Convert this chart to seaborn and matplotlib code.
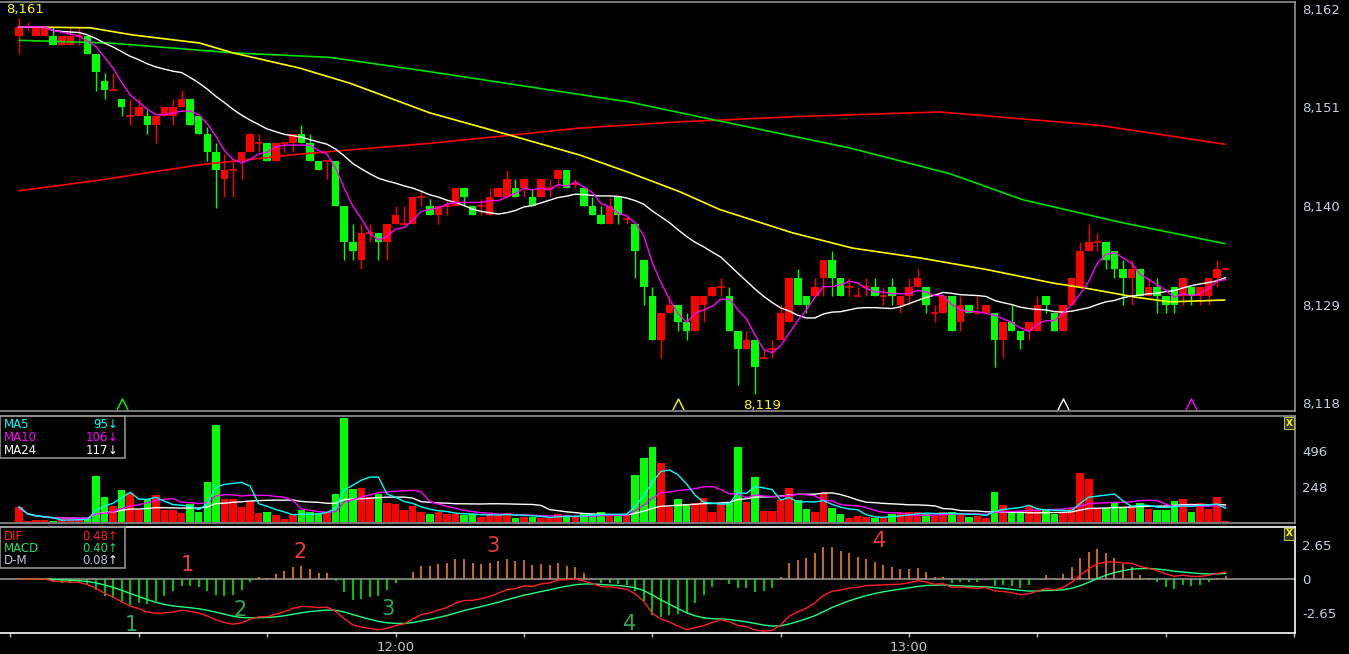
import numpy as np
import pandas as pd
import seaborn as sns
import matplotlib.pyplot as plt
from matplotlib.patches import Rectangle

# one candle per minute, first one at 11:16
opens = [8159, 8160, 8159, 8159, 8159, 8158, 8158, 8159, 8159, 8157,
         8154, 8153, 8152, 8150, 8150, 8150, 8149, 8150, 8150, 8151,
         8152, 8150, 8148, 8146, 8143, 8144, 8145, 8146, 8147, 8147,
         8145, 8147, 8147, 8148, 8147, 8145, 8145, 8145, 8140, 8136,
         8134, 8137, 8137, 8136, 8138, 8138, 8138, 8141, 8140, 8139,
         8140, 8140, 8142, 8140, 8140, 8139, 8141, 8141, 8142, 8142,
         8141, 8141, 8142, 8143, 8144, 8142.5, 8142, 8140, 8139, 8138,
         8141, 8138.5, 8138, 8134, 8130, 8125, 8128, 8129, 8127, 8126,
         8129, 8130, 8131, 8130, 8126, 8124, 8125, 8123, 8124, 8125,
         8127, 8132, 8130, 8130, 8132, 8134, 8132, 8131, 8130, 8131,
         8131, 8130, 8131, 8129, 8130, 8131, 8131, 8128, 8128, 8130,
         8127, 8129, 8128, 8128, 8128, 8125, 8127, 8126, 8126, 8126,
         8130, 8128, 8126, 8129, 8131, 8135, 8136, 8136, 8135, 8133,
         8132, 8133, 8130, 8131, 8130, 8131, 8130, 8131, 8130, 8130,
         8132, 8133]
highs = [8161, 8160.5, 8160, 8160, 8160, 8159, 8160, 8160, 8159, 8157,
         8154.9, 8154.8, 8152, 8152, 8152, 8150.7, 8150, 8151, 8152, 8153,
         8152, 8150, 8148.8, 8147, 8145.8, 8145, 8146, 8148, 8148, 8147,
         8147, 8147, 8148, 8149, 8148, 8145, 8145, 8145, 8140, 8138,
         8138, 8138, 8137, 8138, 8140, 8140, 8141, 8141.8, 8140.8, 8140,
         8140.8, 8142, 8142, 8140, 8140.8, 8142, 8142, 8144, 8143, 8143,
         8142, 8143, 8143, 8144, 8144, 8143, 8142, 8141, 8140, 8141,
         8141, 8139, 8138, 8134, 8131, 8128, 8130, 8129, 8128, 8130,
         8130, 8131, 8132, 8131, 8126, 8126, 8125, 8124, 8125, 8129,
         8132, 8133, 8130, 8132, 8134, 8135, 8132, 8132, 8131, 8132,
         8132, 8131, 8132, 8130, 8132, 8133, 8131, 8129, 8130, 8130,
         8130, 8129, 8130, 8129, 8128, 8127, 8129, 8126, 8127, 8130,
         8130, 8128, 8129, 8132, 8136, 8138, 8137, 8136, 8135, 8134,
         8134, 8133, 8132, 8132, 8130, 8131, 8132, 8131, 8131, 8132,
         8134, 8133]
lows = [8157, 8159.5, 8159, 8159, 8158, 8158, 8158, 8158, 8157, 8152.8,
        8152, 8153, 8150, 8149, 8150, 8148, 8147, 8150, 8149, 8151,
        8149, 8148, 8145, 8139.8, 8141, 8141, 8143, 8146, 8146, 8145,
        8145, 8146, 8146, 8147, 8145, 8144, 8143, 8140, 8134, 8134,
        8133, 8136, 8134, 8134, 8138, 8138, 8138, 8140, 8139, 8138,
        8139, 8140, 8140, 8139, 8139, 8139, 8141, 8141, 8141, 8141,
        8140, 8141, 8141, 8142, 8142, 8142, 8140, 8139, 8138, 8138,
        8138, 8138, 8132, 8129, 8125, 8123, 8128, 8126, 8125, 8126,
        8127, 8130, 8130, 8126, 8120, 8124, 8119, 8123, 8123, 8125,
        8127, 8130, 8128, 8130, 8130, 8130, 8130, 8130, 8130, 8130,
        8130, 8129, 8129, 8128, 8129, 8131, 8128, 8127, 8128, 8126,
        8126, 8128, 8128, 8128, 8122, 8123, 8126, 8124, 8125, 8126,
        8128, 8126, 8126, 8129, 8131, 8135, 8135, 8133, 8132, 8129,
        8129, 8130, 8130, 8128, 8128, 8128, 8129, 8129, 8129, 8129,
        8131, 8133]
closes = [8160, 8160, 8160, 8160, 8158, 8159, 8159, 8159, 8157, 8155,
          8153, 8153, 8151, 8150, 8151, 8149, 8150, 8151, 8151, 8152,
          8149, 8148, 8146, 8144, 8144, 8144, 8146, 8148, 8147, 8145,
          8147, 8147, 8148, 8147, 8145, 8144, 8145, 8140, 8136, 8135,
          8137, 8137, 8136, 8138, 8139, 8138, 8141, 8141, 8139, 8140,
          8140, 8142, 8141, 8139, 8140, 8141, 8142, 8143, 8141, 8143,
          8140, 8143, 8142, 8144, 8142, 8142.5, 8140, 8139, 8138, 8140,
          8139, 8138.5, 8135, 8131, 8125, 8128, 8129, 8127, 8126, 8130,
          8130, 8131, 8131, 8126, 8124, 8125, 8122, 8123, 8124, 8128,
          8132, 8129, 8129, 8131, 8134, 8132, 8130, 8131, 8130, 8131,
          8130, 8130, 8130, 8130, 8131, 8132, 8129, 8128, 8130, 8126,
          8129, 8128, 8128, 8129, 8125, 8127, 8126, 8125, 8127, 8129,
          8129, 8126, 8129, 8132, 8135, 8136, 8136, 8134, 8133, 8132,
          8133, 8130, 8131, 8130, 8129, 8129, 8132, 8130, 8131, 8132,
          8133, 8133]
volumes = [105, 10, 15, 15, 5, 18, 18, 22, 25, 322,
           175, 112, 224, 205, 86, 161, 189, 86, 86, 65,
           126, 70, 280, 679, 161, 161, 105, 149, 65, 70,
           49, 20, 49, 84, 72, 60, 68, 196, 728, 233,
           238, 177, 196, 135, 124, 84, 114, 72, 56, 68,
           56, 58, 47, 54, 37, 56, 51, 65, 30, 37,
           35, 30, 26, 54, 49, 35, 54, 54, 70, 54,
           42, 54, 327, 448, 525, 415, 107, 159, 128, 131,
           170, 72, 124, 138, 525, 142, 313, 77, 77, 156,
           236, 152, 89, 68, 208, 100, 54, 26, 40, 35,
           26, 35, 56, 63, 68, 68, 56, 40, 70, 68,
           54, 37, 40, 30, 210, 121, 72, 70, 114, 84,
           84, 58, 65, 100, 343, 303, 96, 98, 142, 98,
           114, 135, 91, 84, 84, 147, 161, 70, 131, 91,
           175, 8]

# long averages at a few candles
yellow_idx = [0, 8.3, 13.3, 21.1, 25, 32.8, 38.7, 48, 57.4, 65.5, 71.4, 77.2,
              81.9, 90.4, 97.4, 105.3, 113.1, 120.8, 124.8, 130.6, 134.5, 140.9]
yellow_val = [8160.0, 8159.9, 8159.1, 8158.2, 8157.1, 8155.4, 8153.7, 8150.4,
              8147.9, 8145.7, 8143.7, 8141.6, 8139.6, 8137.0, 8135.3, 8134.2,
              8132.9, 8131.4, 8130.8, 8129.8, 8129.3, 8129.5]
green_idx = [0, 10.6, 25, 36.3, 48, 59.7, 71.4, 81.3, 97, 108.8, 117.3, 128.6, 140.9]
green_val = [8158.5, 8158.2, 8157.1, 8156.6, 8155.0, 8153.3, 8151.6, 8149.6,
             8146.5, 8143.6, 8140.7, 8138.2, 8135.8]
red_idx = [0, 9.5, 21.1, 32.8, 48, 57.4, 65.5, 77.2, 91.2, 107.6, 126.3, 140.9]
red_val = [8141.7, 8142.9, 8144.6, 8145.8, 8147.0, 8147.9, 8148.7, 8149.4,
           8150.0, 8150.5, 8149.0, 8146.9]

time_ticks = [-1, 14, 29, 44, 59, 74, 89, 104, 119, 134, 149]
time_labels = ['', '', '', '12:00', '', '', '', '13:00', '', '', '']
price_ticks = [8118, 8129, 8140, 8151, 8162]
vol_ticks = [248, 496]
macd_ticks = [-2.65, 0, 2.65]

vol_legend = [('MA5', '95', '↓', '#00ffff'), ('MA10', '106', '↓', '#ff00ff'),
              ('MA24', '117', '↓', '#ffffff')]
macd_legend = [('DIF', '0.48', '↑', '#ff2020', '#ff2020'),
               ('MACD', '0.40', '↑', '#20e070', '#20e070'),
               ('D-M', '0.08', '↑', '#c0c8d8', '#ffffff')]
# triangle markers under the price panel (candle index, colour)
marks = [(12, '#00ff00'), (77, '#ffff00'), (122, '#ffffff'), (137, '#ff00ff')]

df = pd.DataFrame({'open': opens, 'high': highs, 'low': lows, 'close': closes, 'vol': volumes})
df['i'] = np.arange(len(df))
df['up'] = df['close'] >= df['open']
df['col'] = np.where(df['up'], '#ff0000', '#00ff00')
df['ma5'] = df['close'].rolling(5, min_periods=1).mean()
df['ma20'] = df['close'].rolling(20, min_periods=1).mean()
df['vma5'] = df['vol'].rolling(5, min_periods=1).mean()
df['vma10'] = df['vol'].rolling(10, min_periods=1).mean()
df['vma24'] = df['vol'].rolling(24, min_periods=1).mean()
ema12 = df['close'].ewm(span=12, adjust=False).mean()
ema26 = df['close'].ewm(span=26, adjust=False).mean()
df['dif'] = ema12 - ema26
df['dea'] = df['dif'].ewm(span=9, adjust=False).mean()
df['hist'] = 2 * (df['dif'] - df['dea'])

sns.set_theme(style='dark', rc={'axes.facecolor': 'black', 'figure.facecolor': 'black',
                                'axes.grid': False})
plt.rcParams['font.family'] = ['DejaVu Sans']

W, H = 1349, 654
fig = plt.figure(figsize=(W / 100, H / 100), dpi=100)

def box(top, bottom):
    return [0, 1 - bottom / H, 1295 / W, (bottom - top) / H]

def fxy(x, y):
    return x / W, 1 - y / H

ax1 = fig.add_axes(box(2, 411))
ax2 = fig.add_axes(box(416, 523))
ax3 = fig.add_axes(box(527, 633))

xl = (-2.22, 149.1)
axis_col = '#c8d0e0'
for ax, edge in [(ax1, '#909090'), (ax2, '#909090'), (ax3, '#ffffff')]:
    ax.set_xlim(xl)
    ax.set_facecolor('black')
    for s in ['top', 'right', 'bottom']:
        ax.spines[s].set_visible(True)
        ax.spines[s].set_color(edge)
        ax.spines[s].set_linewidth(1.2)
    ax.spines['left'].set_visible(False)
    ax.yaxis.tick_right()
    ax.tick_params(axis='y', length=0, pad=5, labelcolor=axis_col, labelsize=9.5)
    ax.set_xlabel('')
    ax.set_ylabel('')

# ---- price panel
ax1.set_ylim(8117.11, 8162.78)
bw = 0.88
body = df[df['close'] != df['open']]
doji = df[df['close'] == df['open']]
ax1.vlines(df['i'], df['low'], df['high'], colors=df['col'], lw=1, zorder=2)
ax1.bar(body['i'], (body['close'] - body['open']).abs(),
        bottom=body[['open', 'close']].min(axis=1), width=bw,
        color=body['col'], linewidth=0, zorder=2)
ax1.hlines(doji['close'], doji['i'] - bw / 2, doji['i'] + bw / 2, colors='#ff0000', lw=1.2, zorder=2)

sns.lineplot(x=red_idx, y=red_val, ax=ax1, color='#ff0000', lw=1.2, zorder=3)
sns.lineplot(x=green_idx, y=green_val, ax=ax1, color='#00e000', lw=1.2, zorder=3)
sns.lineplot(x=yellow_idx, y=yellow_val, ax=ax1, color='#ffff00', lw=1.2, zorder=3)
sns.lineplot(data=df, x='i', y='ma20', ax=ax1, color='#ffffff', lw=1.0, zorder=4)
sns.lineplot(data=df, x='i', y='ma5', ax=ax1, color='#ff00ff', lw=1.0, zorder=5)

ax1.set_yticks(price_ticks)
ax1.set_yticklabels([f'{t:,}' for t in price_ticks])
ax1.set_xticks([])
ax1.set_xlabel('')
ax1.set_ylabel('')

caret = [(-1, -1), (0, 1), (1, -1)]
for idx, c in marks:
    ax1.plot([idx], [0.016], transform=ax1.get_xaxis_transform(), marker=caret,
             markersize=8, mfc='none', mec=c, mew=1.0, ls='none')

fig.text(*fxy(6, 10), '8,161', color='#ffff00', fontsize=9.5, ha='left', va='center')
fig.text(*fxy(762, 405), '8,119', color='#ffff00', fontsize=9.5, ha='center', va='center')

# ---- volume panel
ax2.set_ylim(-7, 742)
ax2.bar(df['i'], df['vol'], width=bw, color=df['col'], linewidth=0, zorder=2)
sns.lineplot(data=df, x='i', y='vma24', ax=ax2, color='#ffffff', lw=1.0, zorder=3)
sns.lineplot(data=df, x='i', y='vma10', ax=ax2, color='#ff00ff', lw=1.0, zorder=3)
sns.lineplot(data=df, x='i', y='vma5', ax=ax2, color='#00ffff', lw=1.0, zorder=3)
ax2.set_yticks(vol_ticks)
ax2.set_yticklabels([str(t) for t in vol_ticks])
ax2.set_xticks([])
ax2.set_xlabel('')
ax2.set_ylabel('')

# ---- MACD panel
ax3.set_ylim(-4.15, 4.0)
ax3.axhline(0, color='#909090', lw=1.2, zorder=1)
ax3.vlines(df['i'], 0, df['hist'], colors=np.where(df['hist'] >= 0, '#ff8c1a', '#00ff00'),
           lw=1.1, zorder=2)
sns.lineplot(data=df, x='i', y='dea', ax=ax3, color='#20ff80', lw=1.0, zorder=3)
sns.lineplot(data=df, x='i', y='dif', ax=ax3, color='#ff2020', lw=1.0, zorder=4)
ax3.set_yticks(macd_ticks)
ax3.set_yticklabels(['-2.65', '0', '2.65'])
ax3.set_xticks(time_ticks)
ax3.set_xticklabels(time_labels)
ax3.tick_params(axis='x', length=3, width=1, color='#c0c0c0', labelcolor='#c8c8c8',
                labelsize=9.5, pad=3, bottom=True)
ax3.set_xlabel('')
ax3.set_ylabel('')

for n, (x, y) in enumerate([(187, 565), (300, 552), (493, 546), (880, 541)]):
    fig.text(*fxy(x, y), str(n + 1), color='#e83840', fontsize=15, ha='center', va='center')
for n, (x, y) in enumerate([(131, 625), (240, 610), (388, 609), (630, 624)]):
    fig.text(*fxy(x, y), str(n + 1), color='#30a858', fontsize=15, ha='center', va='center')

# ---- legend boxes
def legend_box(top, bottom, rows):
    fig.patches.append(Rectangle(fxy(0, bottom), 125 / W, (bottom - top) / H,
                                 transform=fig.transFigure, fill=False,
                                 edgecolor='#909090', lw=1.2, zorder=10))
    for k, row in enumerate(rows):
        y = top + 9 + 12.5 * k
        name, val, arrow, col = row[:4]
        acol = row[4] if len(row) > 4 else col
        fig.text(*fxy(4, y), name, color=col, fontsize=8.5, ha='left', va='center')
        fig.text(*fxy(108, y), val, color=col, fontsize=8.5, ha='right', va='center')
        fig.text(*fxy(113, y), arrow, color=acol, fontsize=8.5, ha='center', va='center')

legend_box(416, 458, vol_legend)
legend_box(527, 568, macd_legend)

for y in [423, 534]:
    fig.text(*fxy(1289, y), 'X', color='#ffff00', fontsize=6.5, ha='center', va='center',
             fontweight='bold',
             bbox=dict(boxstyle='square,pad=0.15', fc='#303030', ec='#c0c040', lw=0.8))

fig.savefig('out.png', dpi=100, facecolor='black')
